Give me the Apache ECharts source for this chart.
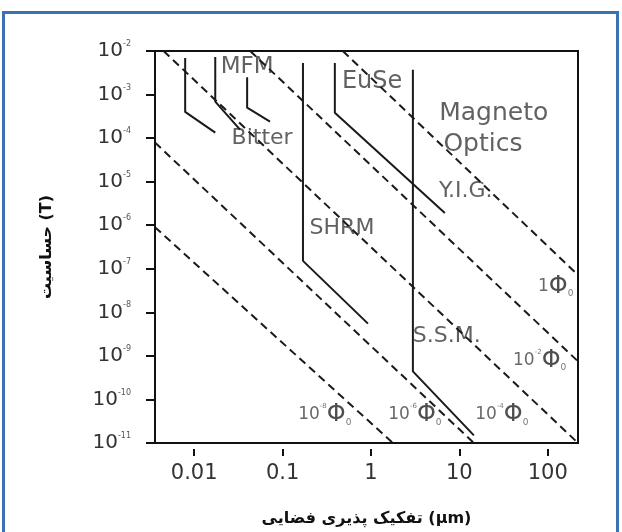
<!DOCTYPE html>
<html>
<head>
<meta charset="utf-8">
<script src="https://cdn.jsdelivr.net/npm/echarts@6.0.0/dist/echarts.min.js"></script>
<style>
  html, body { margin: 0; padding: 0; background: #fff; }
  #main { width: 622px; height: 532px; }
</style>
</head>
<body>
<div id="main"></div>
<script>
// axis ticks
var xTickValues = [0.01, 0.1, 1, 10, 100];
var xTickTexts = ['0.01', '0.1', '1', '10', '100'];
var yTickValues = [1e-2, 1e-3, 1e-4, 1e-5, 1e-6, 1e-7, 1e-8, 1e-9, 1e-10, 1e-11];
var yTickExps = ['-2', '-3', '-4', '-5', '-6', '-7', '-8', '-9', '-10', '-11'];

// constant flux lines (dashed), [resolution um, field T]
var flux0Line = [[0.48, 1e-2], [220, 7.2e-8]];      // 1 Phi0
var fluxM2Line = [[0.043, 1e-2], [220, 7.5e-10]];   // 10^-2 Phi0
var fluxM4Line = [[0.0045, 1e-2], [220, 1e-11]];    // 10^-4 Phi0
var fluxM6Line = [[0.0036, 7.9e-5], [14.6, 1e-11]]; // 10^-6 Phi0
var fluxM8Line = [[0.0036, 9e-7], [1.77, 1e-11]];   // 10^-8 Phi0

// technique limits (solid)
var mfmLineA = [[0.0079, 6.9e-3], [0.0079, 4.0e-4], [0.0173, 1.34e-4]];
var mfmLineB = [[0.0173, 7.3e-3], [0.0173, 6.9e-4], [0.033, 1.57e-4]];
var bitterLine = [[0.0397, 2.5e-3], [0.0397, 5.0e-4], [0.072, 2.4e-4]];
var shrmLine = [[0.17, 5.3e-3], [0.17, 1.52e-7], [0.925, 5.5e-9]];
var euseLine = [[0.39, 5.3e-3], [0.39, 3.8e-4], [6.85, 1.9e-6]];
var ssmLine = [[2.98, 3.7e-3], [2.98, 4.4e-10], [14.6, 1.5e-11]];

// text notes in the plot
var noteNames = ['MFM', 'Bitter', 'EuSe', 'Magneto', 'Optics', 'Y.I.G.', 'SHRM', 'S.S.M.'];
var notePos = [[0.0397, 4.3e-3], [0.0586, 9.8e-5], [1.03, 1.96e-3], [24.5, 3.65e-4],
  [18.5, 7.1e-5], [11.8, 6e-6], [0.47, 8.6e-7], [7.2, 2.8e-9]];

// flux labels
var fluxExps = ['', '-2', '-4', '-6', '-8'];
var fluxLabelPos = [[123, 3.9e-8], [81, 7.9e-10], [30.2, 4.4e-11], [3.14, 4.4e-11], [0.30, 4.4e-11]];

var chart = echarts.init(document.getElementById('main'), null, { renderer: 'canvas' });

function dashed(data) {
  return {
    type: 'line', data: data, symbol: 'none', silent: true, clip: false,
    lineStyle: { color: '#1a1a1a', width: 2, type: [8, 5] }
  };
}
function solid(data) {
  return {
    type: 'line', data: data, symbol: 'none', silent: true, clip: false,
    lineStyle: { color: '#1a1a1a', width: 2 }
  };
}

// 大字号的标注
var bigNotes = { 'Magneto': 25, 'Optics': 25, 'EuSe': 24, 'MFM': 23 };
var noteData = [];
for (var i = 0; i < noteNames.length; i++) {
  var item = { name: noteNames[i], value: notePos[i] };
  if (bigNotes[noteNames[i]]) item.label = { fontSize: bigNotes[noteNames[i]] };
  noteData.push(item);
}
var fluxData = [];
for (var j = 0; j < fluxExps.length; j++) {
  fluxData.push({ name: fluxExps[j], value: fluxLabelPos[j] });
}

var option = {
  animation: false,
  backgroundColor: '#fff',
  graphic: [{
    type: 'rect', silent: true,
    shape: { x: 3.5, y: 12.5, width: 614, height: 540 },
    style: { fill: 'none', stroke: '#3a72b2', lineWidth: 3 }
  }],
  grid: {
    left: 155, right: 44, top: 51, bottom: 87,
    show: true, borderColor: '#111', borderWidth: 2, backgroundColor: '#fff'
  },
  xAxis: {
    type: 'log', logBase: 10, min: 0.0036, max: 220,
    offset: 6,
    axisLine: { show: false },
    splitLine: { show: false },
    axisTick: { show: true, length: 7, customValues: xTickValues, lineStyle: { color: '#111', width: 2 } },
    axisLabel: {
      customValues: xTickValues, margin: 14,
      fontFamily: 'DejaVu Sans', fontSize: 21, color: '#333',
      formatter: function (v) {
        var k = Math.round(Math.log10(v)) + 2;
        return xTickTexts[k] || '';
      }
    },
    name: 'تفکیک پذیری فضایی (µm)',
    nameLocation: 'middle', nameGap: 62,
    nameTextStyle: { fontFamily: 'DejaVu Sans', fontWeight: 'bold', fontSize: 16, color: '#111' }
  },
  yAxis: {
    type: 'log', logBase: 10, min: 1e-11, max: 1e-2,
    axisLine: { show: true, lineStyle: { color: '#111', width: 2 } },
    splitLine: { show: false },
    axisTick: { show: true, length: 9, customValues: yTickValues, lineStyle: { color: '#111', width: 2 } },
    axisLabel: {
      customValues: yTickValues, margin: 24,
      formatter: function (v) {
        var k = -Math.round(Math.log10(v)) - 2;
        return '{b|10}{s|' + yTickExps[k] + '}';
      },
      rich: {
        b: { fontFamily: 'DejaVu Sans', fontSize: 20, color: '#333', lineHeight: 22 },
        s: { fontFamily: 'DejaVu Sans', fontSize: 8, color: '#555', verticalAlign: 'top', lineHeight: 10 }
      }
    },
    name: 'حساسیت (T)',
    nameLocation: 'middle', nameGap: 100,
    nameTextStyle: { fontFamily: 'DejaVu Sans', fontWeight: 'bold', fontSize: 16, color: '#111' }
  },
  series: [
    dashed(flux0Line), dashed(fluxM2Line), dashed(fluxM4Line), dashed(fluxM6Line), dashed(fluxM8Line),
    solid(mfmLineA), solid(mfmLineB), solid(bitterLine), solid(shrmLine), solid(euseLine), solid(ssmLine),
    {
      type: 'scatter', data: noteData, symbolSize: 0, silent: true, clip: false,
      label: {
        show: true, position: 'inside', formatter: '{b}',
        fontFamily: 'DejaVu Sans', fontSize: 22, color: '#3a3a3a'
      }
    },
    {
      type: 'scatter', data: fluxData, symbolSize: 0, silent: true, clip: false,
      label: {
        show: true, position: 'inside',
        formatter: function (p) {
          if (p.name === '') return '{n|1}{p|Φ}{s|0}';
          return '{n|10}{e|' + p.name + '}{p|Φ}{s|0}';
        },
        rich: {
          n: { fontFamily: 'DejaVu Sans', fontSize: 17, color: '#444', lineHeight: 24 },
          e: { fontFamily: 'DejaVu Sans', fontSize: 7, color: '#555', verticalAlign: 'top', lineHeight: 10 },
          p: { fontFamily: 'DejaVu Sans', fontSize: 24, color: '#222', lineHeight: 24 },
          s: { fontFamily: 'DejaVu Sans', fontSize: 9, color: '#555', verticalAlign: 'bottom', lineHeight: 10 }
        }
      }
    }
  ]
};
chart.setOption(option);
</script>
</body>
</html>
